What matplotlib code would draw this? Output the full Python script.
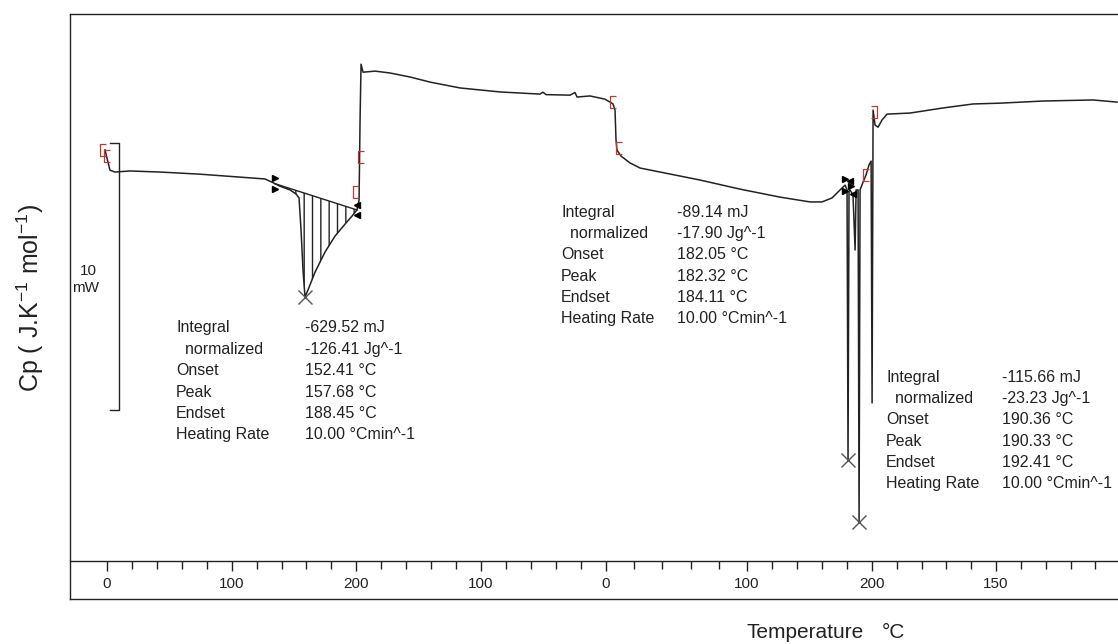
import numpy as np
import matplotlib
matplotlib.use("Agg")
import matplotlib.pyplot as plt
from matplotlib.path import Path

plt.rcParams['font.family'] = ['Liberation Sans', 'DejaVu Sans']
plt.rcParams['hatch.linewidth'] = 1.0

# ---------------- data ----------------
# x: position along the segmented temperature axis (heat / cool / heat)
position = [1.6, 3.2, 5.6, 9.7, 21.8, 46.0, 78.2, 110.5, 130.6, 136.3, 142.7, 150.8,
            155.6, 158.1, 159.7, 161.3, 162.9, 165.3, 171.0, 179.0, 187.1, 195.2, 200.8,
            204.8, 206.5, 207.3, 208.1, 209.7, 219.4, 231.5, 247.6, 263.7, 287.9, 320.2,
            352.4, 354.8, 357.3, 376.6, 380.6, 382.3, 392.7, 404.8, 411.3, 412.9, 413.7,
            414.5, 417.7, 425.0, 433.1, 449.2, 481.5, 513.7, 546.0, 570.2, 579.8, 587.9,
            594.4, 598.4, 600.0, 600.8, 601.6, 602.4, 604.8, 606.5, 607.3, 608.9, 609.7,
            610.5, 612.9, 615.3, 617.7, 619.4, 620.2, 621.0, 622.6, 625.0, 628.2, 632.3,
            650.8, 677.4, 701.6, 723.4, 758.1, 798.4, 817.7]
# heat flow in mW
heat_flow_mw = [15.40, 15.10, 14.64, 14.57, 14.61, 14.57, 14.49, 14.38, 14.31, 14.19, 14.04, 13.90,
                13.75, 13.60, 12.40, 10.90, 9.89, 10.15, 10.82, 11.57, 12.17, 12.62, 12.92,
                13.15, 13.52, 16.52, 18.61, 18.31, 18.35, 18.28, 18.13, 17.94, 17.72, 17.57,
                17.49, 17.56, 17.47, 17.45, 17.55, 17.38, 17.42, 17.30, 17.12, 16.89, 15.77,
                15.39, 15.17, 14.91, 14.72, 14.57, 14.27, 13.93, 13.63, 13.45, 13.45, 13.60,
                13.90, 14.08, 13.90, 3.78, 13.85, 13.90, 13.71, 11.65, 13.90, 13.90, 1.46,
                13.90, 14.19, 14.46, 14.83, 14.98, 5.92, 16.89, 16.33, 16.25, 16.52, 16.74,
                16.78, 16.97, 17.12, 17.15, 17.23, 17.27, 17.19]

major_tick_pos = [3.2, 104.0, 204.0, 304.8, 405.6, 519.4, 620.2, 720.2]
major_tick_labels = ['0', '100', '200', '100', '0', '100', '200', '150']

# peak integration limits (onset / endset of first peak)
integ_start, integ_end = 138.7, 204.8
peak_windows = [(150, 180), (599, 602), (608, 611)]

# instrument markers
red_bracket_pos = [0.0, 3.2, 208.1, 204.0, 411.3, 416.1, 615.3]
red_bracket_val = [15.39, 15.17, 15.13, 13.82, 17.19, 15.47, 14.46]
red_rbracket_pos = [621.8]
red_rbracket_val = [16.82]

# result tables
labels_col = ['Integral', '  normalized', 'Onset', 'Peak', 'Endset', 'Heating Rate']
results_1 = ['-629.52 mJ', '-126.41 Jg^-1', '152.41 °C', '157.68 °C', '188.45 °C', '10.00 °Cmin^-1']
results_2 = ['-89.14 mJ', '-17.90 Jg^-1', '182.05 °C', '182.32 °C', '184.11 °C', '10.00 °Cmin^-1']
results_3 = ['-115.66 mJ', '-23.23 Jg^-1', '190.36 °C', '190.33 °C', '192.41 °C', '10.00 °Cmin^-1']

scale_bar_mw = 10

# ---------------- figure ----------------
W, H = 1118, 644
fig = plt.figure(figsize=(W / 100, H / 100), dpi=100)

def fx(px):
    return px / W

def fy(py):
    return 1 - py / H

# outer frame
frame = fig.add_axes([fx(70), fy(599), 1 - fx(70), fy(14) - fy(599)])
frame.set_xticks([]); frame.set_yticks([])
frame.spines['right'].set_visible(False)
for s in ['left', 'top', 'bottom']:
    frame.spines[s].set_linewidth(1.0)
    frame.spines[s].set_color('#222222')
frame.patch.set_alpha(0)

ax = fig.add_axes([fx(70), fy(561), 1 - fx(70), fy(14) - fy(561)])
ax.patch.set_alpha(0)
for s in ['left', 'top', 'right']:
    ax.spines[s].set_visible(False)
ax.spines['bottom'].set_color('#222222')
ax.spines['bottom'].set_linewidth(1.0)

x = np.array(position)
y = np.array(heat_flow_mw)
ax.plot(x, y, color='#222222', lw=1.1, zorder=3)

# hatched integration area
xs = np.linspace(integ_start, integ_end, 300)
ys = np.interp(xs, x, y)
b0, b1 = np.interp([integ_start, integ_end], x, y)
base = b0 + (b1 - b0) * (xs - integ_start) / (integ_end - integ_start)
ax.fill_between(xs, ys, base, facecolor='none', edgecolor='#222222', lw=0, hatch='||', zorder=2)
ax.plot([integ_start, integ_end], [b0, b1], color='#222222', lw=1.0, zorder=3)

# onset/endset markers
ax.plot([integ_start, integ_start], [b0 + 0.2, b0 - 0.2], ls='none', marker='>', ms=5, color='k', zorder=4)
ax.plot([integ_end, integ_end], [b1 + 0.2, b1 - 0.2], ls='none', marker='<', ms=5, color='k', zorder=4)
ax.plot([598.4, 598.4, 603.5], [14.30, 13.85, 14.05], ls='none', marker='>', ms=5, color='k', zorder=4)
ax.plot([602.0, 604.5], [14.25, 13.75], ls='none', marker='<', ms=5, color='k', zorder=4)

# peak crosses
for lo, hi in peak_windows:
    m = (x >= lo) & (x <= hi)
    i = np.argmin(np.where(m, y, np.inf))
    ax.plot(x[i], y[i], marker='x', ms=10, mew=1.0, color='#555555', zorder=4)

# red brackets
lb = Path([(0.5, 1), (-0.5, 1), (-0.5, -1), (0.5, -1)], [Path.MOVETO, Path.LINETO, Path.LINETO, Path.LINETO])
rb = Path([(-0.5, 1), (0.5, 1), (0.5, -1), (-0.5, -1)], [Path.MOVETO, Path.LINETO, Path.LINETO, Path.LINETO])
ax.plot(red_bracket_pos, red_bracket_val, ls='none', marker=lb, ms=9, mfc='none', mec='#c0392b', mew=0.9, zorder=4)
ax.plot(red_rbracket_pos, red_rbracket_val, ls='none', marker=rb, ms=9, mfc='none', mec='#c0392b', mew=0.9, zorder=4)

# scale bar
sb_x = 12.9
sb_top = 15.66
ax.plot([5.6, sb_x, sb_x, 5.6], [sb_top, sb_top, sb_top - scale_bar_mw, sb_top - scale_bar_mw],
        color='#222222', lw=1.0)
ax.text(-12.1, 10.86, '10', ha='center', va='center', fontsize=11, color='#222222')
ax.text(-13.7, 10.22, 'mW', ha='center', va='center', fontsize=11, color='#222222')

# result blocks
def block(x0, x1, y0, vals):
    for i, (lab, v) in enumerate(zip(labels_col, vals)):
        yy = y0 - i * 0.80
        ax.text(x0, yy, lab, ha='left', va='center', fontsize=11.5, color='#222222')
        ax.text(x1, yy, v, ha='left', va='center', fontsize=11.5, color='#222222')

block(58.9, 162.9, 8.73, results_1)
block(369.4, 462.9, 13.07, results_2)
block(631.5, 725.0, 6.89, results_3)

# axes limits & ticks
ax.set_xlim(-26.6, 818.5)
ax.set_ylim(0, 20.49)
ax.set_yticks([])
ax.set_xticks(major_tick_pos)
ax.set_xticklabels(major_tick_labels)
minor = []
for a, b in zip(major_tick_pos[:-1], major_tick_pos[1:]):
    minor += list(a + (b - a) * np.arange(1, 5) / 5)
step = (major_tick_pos[-1] - major_tick_pos[-2]) / 5
minor += list(major_tick_pos[-1] + step * np.arange(1, 5))
ax.set_xticks(minor, minor=True)
ax.tick_params(axis='x', which='major', direction='out', length=7.5, width=1.0,
               labelsize=11, pad=4, colors='#222222')
ax.tick_params(axis='x', which='minor', direction='out', length=6, width=1.0, colors='#222222')

fig.text(fx(30), fy(298), 'Cp ( J.K$\\mathregular{^{-1}}$ mol$\\mathregular{^{-1}}$)', rotation=90,
         ha='center', va='center', fontsize=18, color='#222222')
fig.text(fx(805), fy(632), 'Temperature', ha='center', va='center', fontsize=15, color='#222222')
fig.text(fx(893), fy(632), '°C', ha='center', va='center', fontsize=15, color='#222222')

fig.savefig('out.png', dpi=100)
